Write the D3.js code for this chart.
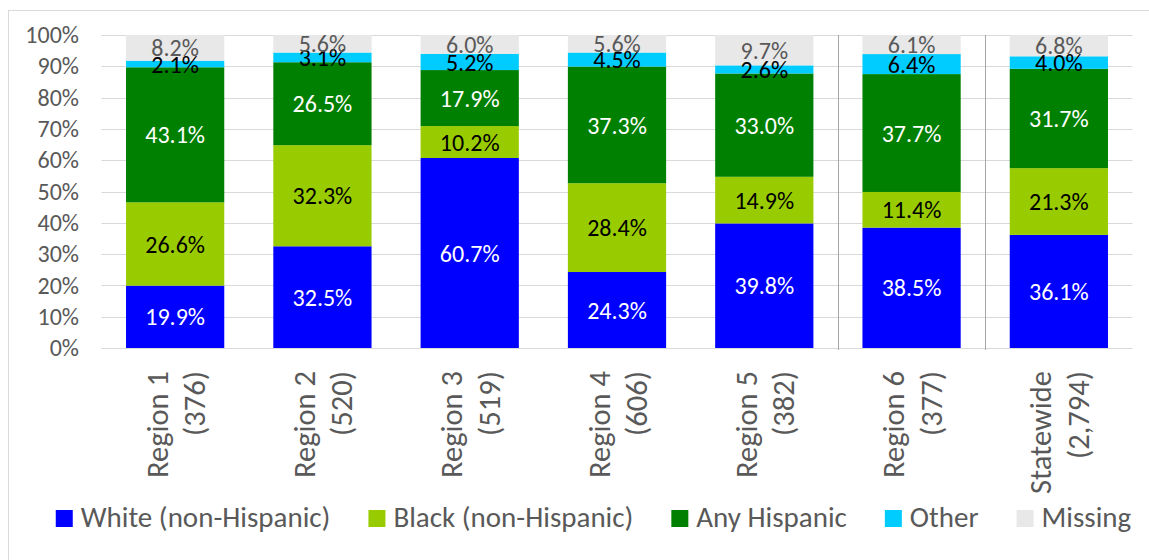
<!DOCTYPE html>
<html>
<head>
<meta charset="utf-8">
<script src="https://cdn.jsdelivr.net/npm/d3@7"></script>
<style>
  html, body { margin: 0; padding: 0; background: #fff; }
  svg { display: block; font-family: Carlito, Calibri, Lato, sans-serif; }
</style>
</head>
<body>
<svg id="chart" width="1149" height="560"></svg>
<script>
// Regions and respondent counts
const regions = ["Region 1", "Region 2", "Region 3", "Region 4", "Region 5", "Region 6", "Statewide"];
const counts = ["(376)", "(520)", "(519)", "(606)", "(382)", "(377)", "(2,794)"];

// Share of each group, percent
const white    = [19.9, 32.5, 60.7, 24.3, 39.8, 38.5, 36.1];
const black    = [26.6, 32.3, 10.2, 28.4, 14.9, 11.4, 21.3];
const hispanic = [43.1, 26.5, 17.9, 37.3, 33.0, 37.7, 31.7];
const other    = [2.1, 3.1, 5.2, 4.5, 2.6, 6.4, 4.0];
const missing  = [8.2, 5.6, 6.0, 5.6, 9.7, 6.1, 6.8];

const seriesKeys = ["white", "black", "hispanic", "other", "missing"];
const seriesNames = ["White (non-Hispanic)", "Black (non-Hispanic)", "Any Hispanic", "Other", "Missing"];
const seriesColors = ["#0000FF", "#99CC00", "#008000", "#00CCFF", "#E8E8E8"];
const labelColors = ["#FFFFFF", "#000000", "#FFFFFF", "#000000", "#595959"];
const yTicks = [0, 10, 20, 30, 40, 50, 60, 70, 80, 90, 100];

const table = regions.map((r, i) => ({
  region: r, white: white[i], black: black[i], hispanic: hispanic[i],
  other: other[i], missing: missing[i]
}));

const svg = d3.select("#chart");

// outer chart border
svg.append("rect")
  .attr("x", 8.5).attr("y", 10.5)
  .attr("width", 1200).attr("height", 700)
  .attr("fill", "none").attr("stroke", "#d9d9d9").attr("stroke-width", 1);

const x = d3.scaleBand().domain(regions).range([101.5, 1132.5])
  .paddingInner(0.333).paddingOuter(0.1665);
const y = d3.scaleLinear().domain([0, 100]).range([348, 35]);

// gridlines
svg.append("g").selectAll("line").data(yTicks).join("line")
  .attr("x1", 101.5).attr("x2", 1132.5)
  .attr("y1", d => Math.round(y(d)) + 0.5).attr("y2", d => Math.round(y(d)) + 0.5)
  .attr("stroke", "#d9d9d9").attr("stroke-width", 1);

// y axis labels
const yAxis = d3.axisLeft(y).tickValues(yTicks).tickFormat(d => d + "%").tickSize(0).tickPadding(0);
const gy = svg.append("g").attr("transform", "translate(79,0)").call(yAxis);
gy.select(".domain").remove();
gy.selectAll("text").attr("font-size", 24).attr("fill", "#595959")
  .attr("font-family", "Carlito, Calibri, Lato, sans-serif");

// group separators
const sepIdx = [5, 6];
svg.append("g").selectAll("line").data(sepIdx).join("line")
  .attr("x1", i => Math.round((x(regions[i - 1]) + x.bandwidth() + x(regions[i])) / 2) + 0.5)
  .attr("x2", i => Math.round((x(regions[i - 1]) + x.bandwidth() + x(regions[i])) / 2) + 0.5)
  .attr("y1", y(100)).attr("y2", y(0) + 2)
  .attr("stroke", "#a6a6a6").attr("stroke-width", 1);

// 100% stacked bars
const stack = d3.stack().keys(seriesKeys).offset(d3.stackOffsetExpand);
const series = stack(table);

const layers = svg.append("g").selectAll("g").data(series).join("g")
  .attr("fill", (d, i) => seriesColors[i]);
layers.selectAll("rect").data(d => d).join("rect")
  .attr("x", d => x(d.data.region))
  .attr("width", x.bandwidth())
  .attr("y", d => y(d[1] * 100))
  .attr("height", d => y(d[0] * 100) - y(d[1] * 100));

// segment labels
const labels = svg.append("g").selectAll("g").data(series).join("g")
  .attr("fill", (d, i) => labelColors[i]);
labels.selectAll("text").data(d => d.map(s => ({ s, key: d.key }))).join("text")
  .attr("x", d => x(d.s.data.region) + x.bandwidth() / 2)
  .attr("y", d => y((d.s[0] + d.s[1]) / 2 * 100))
  .attr("dy", "0.36em")
  .attr("text-anchor", "middle")
  .attr("font-size", 24)
  .text(d => d.s.data[d.key].toFixed(1) + "%");

// category labels (rotated, two lines)
const xl = svg.append("g").selectAll("text").data(regions).join("text")
  .attr("transform", d => `translate(${x(d) + x.bandwidth() / 2},371) rotate(-90)`)
  .attr("text-anchor", "end")
  .attr("font-size", 30.5)
  .attr("fill", "#595959");
xl.append("tspan").attr("x", 0).attr("y", -7.5).text(d => d);
xl.append("tspan").attr("x", 0).attr("y", 30).text((d, i) => counts[i]);

// legend
const legend = svg.append("g");
const items = legend.selectAll("g").data(seriesNames).join("g");
items.append("rect").attr("width", 17).attr("height", 17).attr("y", 510)
  .attr("fill", (d, i) => seriesColors[i]);
items.append("text").attr("x", 25).attr("y", 527)
  .attr("font-size", 29).attr("fill", "#595959").text(d => d);
let cx = 0;
const offsets = [];
items.each(function () {
  offsets.push(cx);
  const w = d3.select(this).select("text").node().getComputedTextLength();
  cx += 25 + w + 38;
});
const total = cx - 38;
const start = 593.5 - total / 2;
items.attr("transform", (d, i) => `translate(${start + offsets[i]},0)`);
</script>
</body>
</html>
